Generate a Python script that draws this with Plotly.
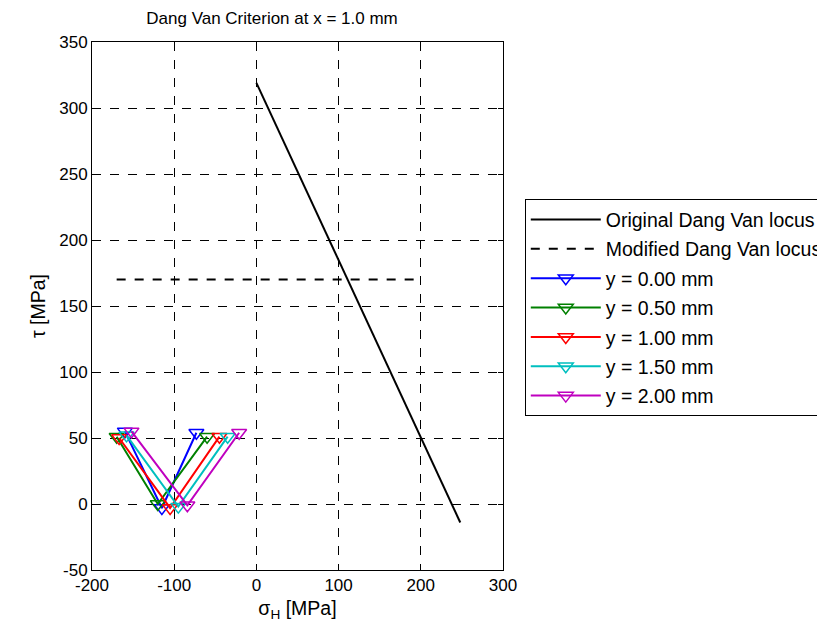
import plotly.graph_objects as go

# Dang Van loci
orig_sigma = [0, 50, 100, 150, 200, 248]
orig_tau = [319, 252, 185, 117, 50, -14]
mod_sigma = [-170, 200]
mod_tau = [170, 170]

# Load paths at x = 1.0 mm for different depths y
series_names = ["y = 0.00 mm", "y = 0.50 mm", "y = 1.00 mm", "y = 1.50 mm", "y = 2.00 mm"]
series_colors = ["#0000ff", "#008000", "#ff0000", "#00bfbf", "#bf00bf"]
path_sigma = [
    [-160, -115, -73],
    [-170, -120, -60],
    [-167, -105, -45],
    [-158, -95, -35],
    [-152, -84, -21],
]
path_tau = [
    [55, -3, 54],
    [51, 0, 51],
    [50, -3, 51],
    [52, -2, 51],
    [55, -1, 54],
]

x_ticks = [-200, -100, 0, 100, 200, 300]
y_ticks = [-50, 0, 50, 100, 150, 200, 250, 300, 350]

FONT = "Arial, Liberation Sans, sans-serif"

fig = go.Figure()
fig.add_trace(go.Scatter(x=orig_sigma, y=orig_tau, mode="lines", name="Original Dang Van locus",
                         line=dict(color="black", width=2), legendgroup="a"))
fig.add_trace(go.Scatter(x=mod_sigma, y=mod_tau, mode="lines", name="Modified Dang Van locus",
                         line=dict(color="black", width=2, dash="dash"), legendgroup="b"))
for i, (nm, col) in enumerate(zip(series_names, series_colors)):
    fig.add_trace(go.Scatter(x=path_sigma[i], y=path_tau[i], mode="lines+markers", name=nm,
                             line=dict(color=col, width=2),
                             marker=dict(symbol="triangle-down-open", size=13, color=col,
                                         line=dict(width=1.5, color=col)),
                             legendgroup="g%d" % i))

axis_common = dict(showline=True, linecolor="black", linewidth=1, mirror="ticks",
                   ticks="inside", ticklen=5, tickcolor="black",
                   showgrid=True, gridcolor="black", gridwidth=1, griddash="dash",
                   zeroline=False, tickfont=dict(family=FONT, size=17, color="black"))

fig.update_layout(
    width=817, height=631,
    margin=dict(l=92, r=314, t=42, b=61, autoexpand=False),
    paper_bgcolor="white", plot_bgcolor="white",
    title=dict(text="Dang Van Criterion at x = 1.0 mm", x=0.438, xref="paper", xanchor="center",
               y=1 - 18 / 631, yref="container", yanchor="middle",
               font=dict(family=FONT, size=17, color="black")),
    xaxis=dict(range=[-200, 300], tickvals=x_ticks, ticktext=[str(v) for v in x_ticks],
               title=dict(text="σ<sub>H</sub> [MPa]", font=dict(family=FONT, size=19.5, color="black"),
                          standoff=6),
               **axis_common),
    yaxis=dict(range=[-50, 350], tickvals=y_ticks, ticktext=[str(v) for v in y_ticks],
               title=dict(text="τ [MPa]", font=dict(family=FONT, size=19.5, color="black"),
                          standoff=8),
               **axis_common),
    legend=dict(x=1.053, y=0.702, xanchor="left", yanchor="top",
                bordercolor="black", borderwidth=1, bgcolor="white",
                font=dict(family=FONT, size=19.5, color="black"),
                traceorder="grouped", tracegroupgap=1, itemwidth=70),
    showlegend=True,
)

fig.write_html("out.html")
